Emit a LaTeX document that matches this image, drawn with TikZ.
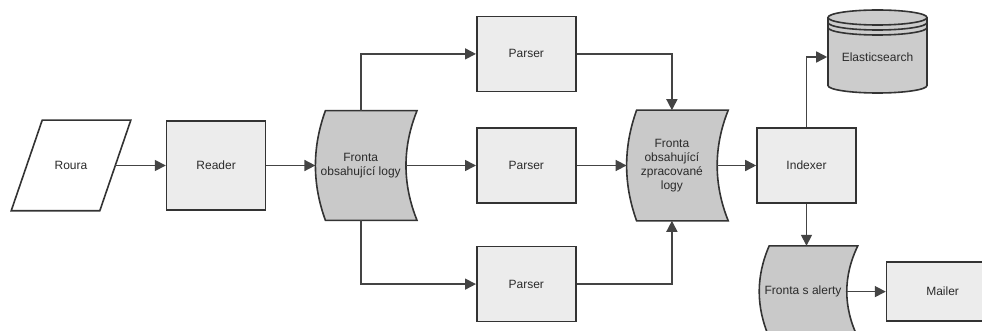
\documentclass[tikz,border=0pt]{standalone}
\usepackage{fontspec}
\setmainfont{Liberation Sans}
\usepackage{tikz}
\usetikzlibrary{positioning,arrows.meta,calc,backgrounds}

\definecolor{linec}{HTML}{333333}
\definecolor{arrowc}{HTML}{444444}
\definecolor{txtc}{HTML}{2B2B2B}
\definecolor{boxfill}{HTML}{ECECEC}
\definecolor{queuefill}{HTML}{C9C9C9}
\definecolor{storefill}{HTML}{CCCCCC}

\begin{document}
\begin{tikzpicture}[
            x=1pt, y=-1pt,
            font=\fontsize{12}{14}\selectfont,
            text=txtc,
            >={Triangle[length=11pt,width=11pt]},
            line width=1.6pt,
            box/.style={
                    draw=linec, fill=boxfill, line width=1.6pt,
                    minimum width=99pt, minimum height=75pt,
                    inner sep=0pt
                },
            queue/.style={
                    minimum width=89pt, minimum height=108pt,
                    inner sep=0pt, align=center
                },
            shp/.style={draw=linec, fill=queuefill, line width=1.6pt},
            arr/.style={->, draw=arrowc, line width=1.6pt},
            ]

            \useasboundingbox (0,0) rectangle (982,331);
            \clip (0,0) rectangle (982,331);

            \node[queue, minimum width=87pt, minimum height=89pt] (roura) at (71,165.5) {Roura};
            \node[box, minimum height=89pt, right=50.5pt of roura] (reader) {Reader};
            \node[queue, right=49pt of reader] (fronta) {Fronta\\obsahující logy};

            % the three parsers in a column
            \node[box, right=70pt of fronta] (parser2) {Parser};
            \node[box, above=35pt of parser2] (parser1) {Parser};
            \node[box, below=42pt of parser2] (parser3) {Parser};

            \node[queue, minimum height=109pt, right=50pt of parser2] (frontazprac) {Fronta\\obsahující\\zpracované\\logy};
            \node[box, right=39pt of frontazprac] (indexer) {Indexer};
            \node[minimum width=99pt, minimum height=60pt, inner sep=0pt] (elastic) at (877.5,57) {Elasticsearch};
            \node[queue, minimum width=86pt, minimum height=90pt, below=42pt of indexer, xshift=-3.5pt] (alerty) {Fronta s alerty};
            \node[box, minimum width=112pt, minimum height=59pt, right=39pt of alerty] (mailer) {Mailer};

            % outlines drawn behind the texts
            \begin{scope}[on background layer]
                \clip (0,0) rectangle (982,331);
                \draw[shp, fill=white] ([xshift=15.5pt]roura.north west) -- ([xshift=15.5pt]roura.north east)
                    -- ([xshift=-15.5pt]roura.south east) -- ([xshift=-15.5pt]roura.south west) -- cycle;
                \foreach \q in {fronta,frontazprac,alerty}
                    \draw[shp] ([xshift=10pt]\q.north west) -- ([xshift=11pt]\q.north east)
                        .. controls ($(\q.north east)!1/3!(\q.south east)+(-3.7,0)$) and ($(\q.north east)!2/3!(\q.south east)+(-3.7,0)$) .. ([xshift=11pt]\q.south east)
                        -- ([xshift=10pt]\q.south west)
                        .. controls ($(\q.north west)!2/3!(\q.south west)+(-3.3,0)$) and ($(\q.north west)!1/3!(\q.south west)+(-3.3,0)$) .. ([xshift=10pt]\q.north west)
                        -- cycle;
                % database cylinder
                \draw[shp, fill=storefill] (elastic.center) ++(-49.5,-39.5) -- ++(0,68)
                    arc[start angle=180, end angle=360, x radius=49.5pt, y radius=7.5pt] -- ++(0,-68)
                    arc[start angle=0, end angle=180, x radius=49.5pt, y radius=7.5pt] -- cycle;
                \foreach \d in {0,5,10}
                    \draw[draw=linec, line width=1.6pt] (elastic.center) ++(-49.5,-39.5+\d)
                        arc[start angle=180, end angle=360, x radius=49.5pt, y radius=7.5pt];
            \end{scope}

            \draw[arr] (roura) -- (reader);
            \draw[arr] (reader) -- (fronta);
            \draw[arr] (fronta.north) |- (parser1.west);
            \draw[arr] (fronta) -- (parser2);
            \draw[arr] (fronta.south) |- (parser3.west);
            \draw[arr] (parser1.east) -| (frontazprac.north);
            \draw[arr] (parser2) -- (frontazprac);
            \draw[arr] (parser3.east) -| (frontazprac.south);
            \draw[arr] (frontazprac) -- (indexer);
            \draw[arr] (indexer.north) |- (elastic.west);
            \draw[arr] (indexer.south) -- (indexer.south |- alerty.north);
            \draw[arr] (alerty) -- (mailer);
        \end{tikzpicture}
\end{document}
